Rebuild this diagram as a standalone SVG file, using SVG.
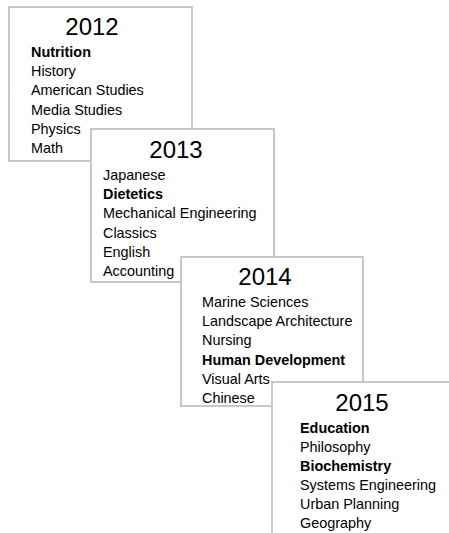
<svg xmlns="http://www.w3.org/2000/svg" width="449" height="533" viewBox="0 0 449 533">
<style>
.box{fill:#fff;stroke:#c8c8c8;stroke-width:2}
.title{font-family:"Liberation Sans",Arial,sans-serif;font-size:24px;fill:#000;text-anchor:middle}
.item{font-family:"Liberation Sans",Arial,sans-serif;font-size:14.4px;fill:#000}
.b{font-weight:bold}
</style>
<rect width="449" height="533" fill="#fff"/>
<g id="connectors"></g>
<g id="year2012">
<rect class="box" x="9" y="7" width="183" height="154"/>
<text class="title" x="92" y="35">2012</text>
<text class="item b" x="31" y="57">Nutrition</text>
<text class="item" x="31" y="76.2">History</text>
<text class="item" x="31" y="95.4">American Studies</text>
<text class="item" x="31" y="114.6">Media Studies</text>
<text class="item" x="31" y="133.8">Physics</text>
<text class="item" x="31" y="153">Math</text>
</g>
<g id="year2013">
<rect class="box" x="91" y="129" width="183" height="153"/>
<text class="title" x="176" y="158">2013</text>
<text class="item" x="103" y="180">Japanese</text>
<text class="item b" x="103" y="199.2">Dietetics</text>
<text class="item" x="103" y="218.4">Mechanical Engineering</text>
<text class="item" x="103" y="237.6">Classics</text>
<text class="item" x="103" y="256.8">English</text>
<text class="item" x="103" y="276">Accounting</text>
</g>
<g id="year2014">
<rect class="box" x="181" y="257" width="182" height="149"/>
<text class="title" x="265" y="285">2014</text>
<text class="item" x="202" y="307">Marine Sciences</text>
<text class="item" x="202" y="326.2">Landscape Architecture</text>
<text class="item" x="202" y="345.4">Nursing</text>
<text class="item b" x="202" y="364.6">Human Development</text>
<text class="item" x="202" y="383.8">Visual Arts</text>
<text class="item" x="202" y="403">Chinese</text>
</g>
<g id="year2015">
<rect class="box" x="272" y="382" width="200" height="200"/>
<text class="title" x="362" y="411">2015</text>
<text class="item b" x="300" y="433">Education</text>
<text class="item" x="300" y="451.9">Philosophy</text>
<text class="item b" x="300" y="470.8">Biochemistry</text>
<text class="item" x="300" y="489.7">Systems Engineering</text>
<text class="item" x="300" y="508.6">Urban Planning</text>
<text class="item" x="300" y="527.5">Geography</text>
</g>
</svg>
